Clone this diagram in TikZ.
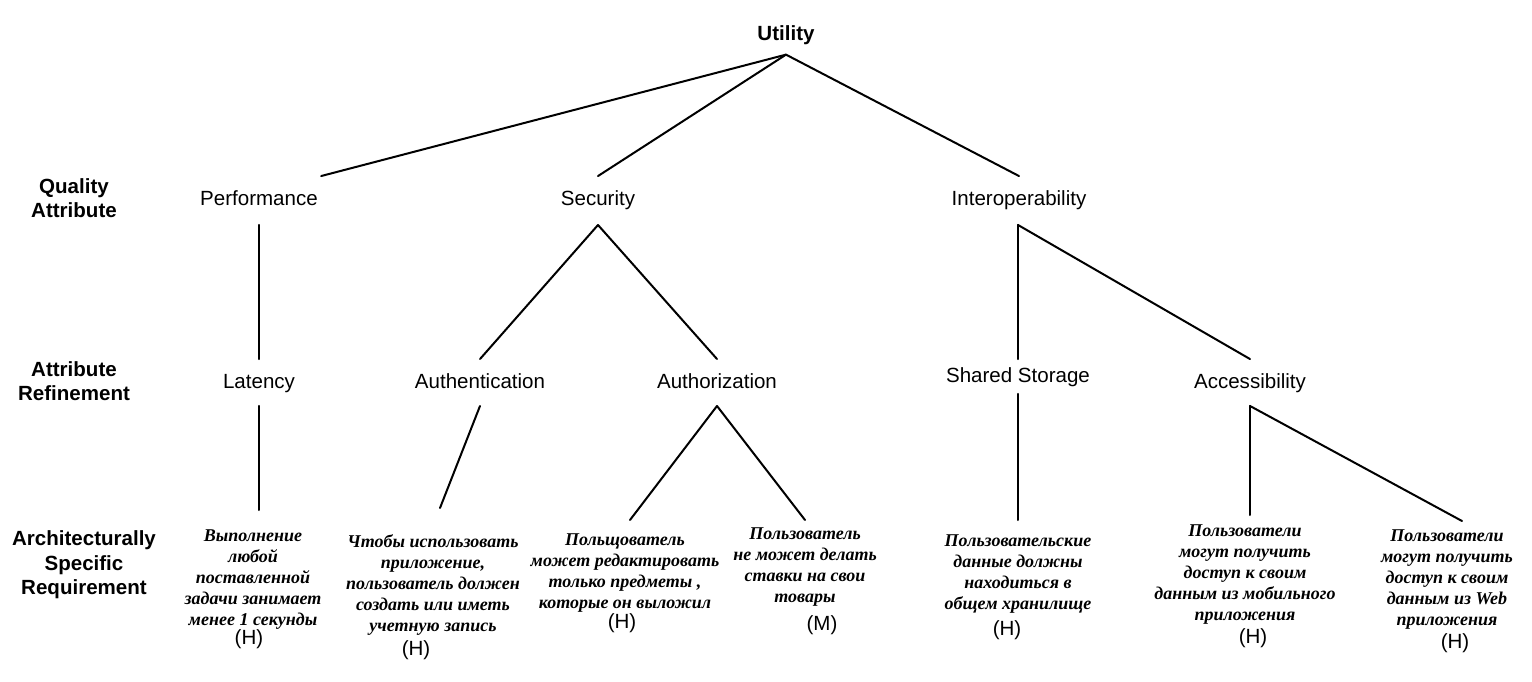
\documentclass[tikz,border=0pt]{standalone}
\usepackage{fontspec}
\setmainfont{Liberation Sans}
\newfontfamily\reqfont{Liberation Serif}
\usepackage{tikz}

\begin{document}
\begin{tikzpicture}[x=0.75pt,y=-0.75pt,line width=1.5pt,line cap=round,
    every node/.style={font=\fontsize{15.4}{18.5}\selectfont},
    head/.style={font=\bfseries\fontsize{15.4}{18.5}\selectfont,align=center},
    attr/.style={anchor=base,inner xsep=1.8pt,inner ysep=0pt,text height=21.2pt,text depth=14pt},
    refine/.style={anchor=base,inner ysep=0pt,text height=21.2pt,text depth=12.5pt},
    req/.style={anchor=north,align=center,inner sep=0pt,
      font=\reqfont\bfseries\itshape\fontsize{13.5}{15.75}\selectfont},
    prio/.style={inner sep=0pt}]
  \useasboundingbox (0,0) rectangle (1532,682);

  \node[head] (qa) at (74,198) {Quality\\Attribute};
  \node[head] (ar) at (74,381) {Attribute\\Refinement};
  \node[head] (asr) at (84,565) {Architecturally\\Specific\\Requirement};

  \node[head,anchor=base,inner ysep=0pt,text depth=10pt] (util) at (786,40.3) {Utility};

  \node[attr] (perf) at (259,205.3) {Performance};
  \node[attr] (sec) at (598,205.3) {Security};
  \node[attr] (inter) at (1019,205.3) {Interoperability};

  \node[refine] (lat) at (259,388.3) {Latency};
  \node[refine] (authn) at (480,388.3) {Authentication};
  \node[refine] (authz) at (717,388.3) {Authorization};
  \node[refine,text height=16.7pt,text depth=8pt] (store) at (1018,382.3) {Shared Storage};
  \node[refine] (access) at (1250,388.3) {Accessibility};

  \node[req,outer ysep=15pt] (latR) at (253,510) {Выполнение\\любой\\поставленной\\задачи занимает\\менее 1 секунды};
  \node[req,outer ysep=20.25pt] (authnR) at (433,508) {Чтобы использовать\\приложение,\\пользователь должен\\создать или иметь\\учетную запись};
  \node[req,outer ysep=10.5pt] (authzR1) at (625,520) {Польщователь\\может редактировать\\только предметы ,\\которые он выложил};
  \node[req,outer ysep=6pt] (authzR2) at (805,520) {Пользователь\\не может делать\\ставки на свои\\товары};
  \node[req,outer ysep=11.25pt] (storeR) at (1018,520) {Пользовательские\\данные должны\\находиться в\\общем хранилище};
  \node[req,outer ysep=7.5pt] (accessR1) at (1245,515) {Пользователи\\могут получить\\доступ к своим\\данным из мобильного\\приложения};
  \node[req,outer ysep=6.75pt] (accessR2) at (1447,521) {Пользователи\\могут получить\\доступ к своим\\данным из Web\\приложения};

  \node[prio] (latP) at (249,639) {(H)};
  \node[prio] (authnP) at (416,650) {(H)};
  \node[prio] (authzP1) at (622,623) {(H)};
  \node[prio] (authzP2) at (822,625) {(M)};
  \node[prio] (storeP) at (1007,630) {(H)};
  \node[prio] (accessP1) at (1253,638) {(H)};
  \node[prio] (accessP2) at (1455,643) {(H)};

  \path
    (util.south) edge (perf.north east)
    (util.south) edge (sec.north)
    (util.south) edge (inter.north)
    (perf.south) edge (lat.north)
    (sec.south) edge (authn.north)
    (sec.south) edge (authz.north)
    (inter.south -| store.south) edge (store.north)
    (inter.south -| store.south) edge (access.north)
    (lat.south) edge (lat.south |- latR.north)
    (authn.south) edge ([xshift=5.25pt]authnR.north)
    (authz.south) edge ([xshift=3.75pt]authzR1.north)
    (authz.south) edge (authzR2.north)
    (store.south) edge (store.south |- storeR.north)
    (access.south) edge (access.south |- accessR1.north)
    (access.south) edge ([xshift=11.25pt]accessR2.north);
\end{tikzpicture}
\end{document}
